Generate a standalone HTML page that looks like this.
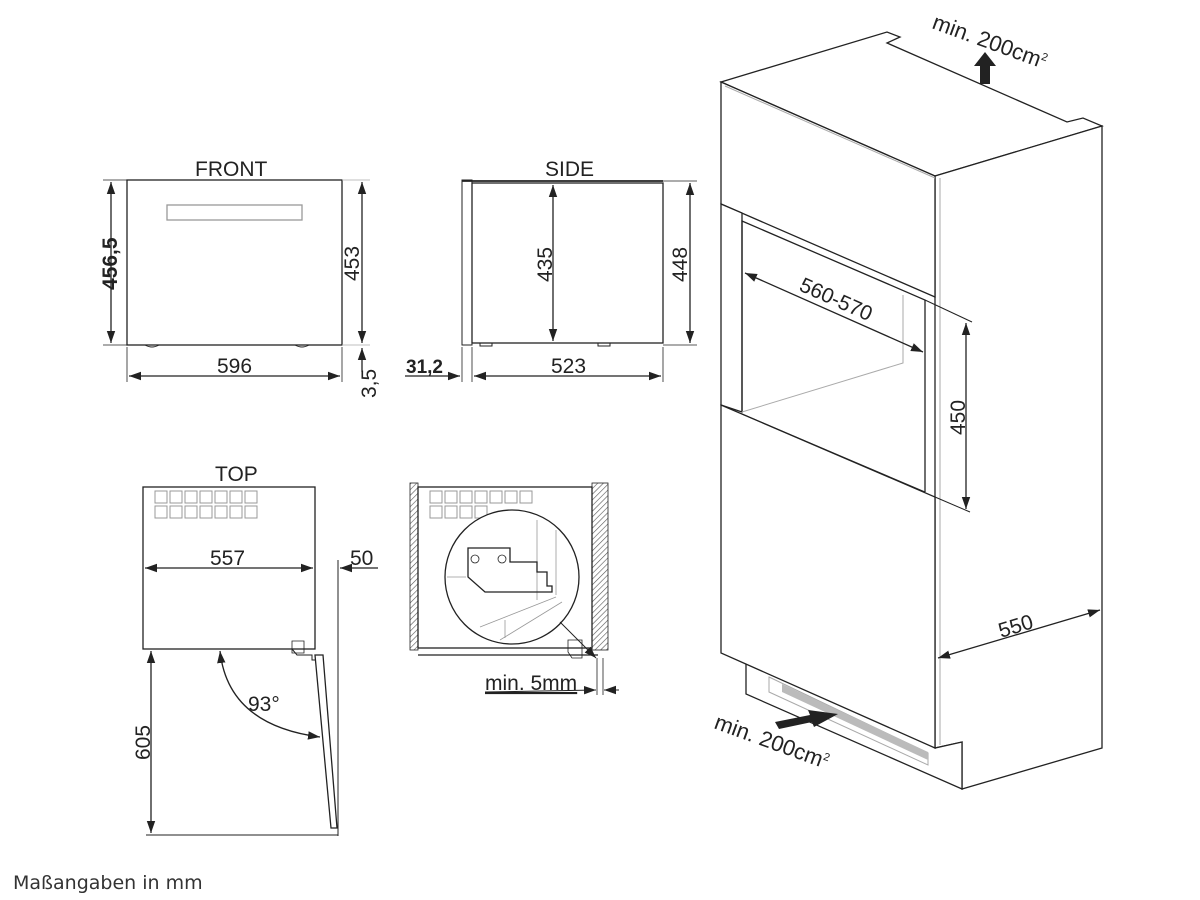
<!DOCTYPE html>
<html><head><meta charset="utf-8"><style>
html,body{margin:0;padding:0;background:#fff;width:1200px;height:900px;overflow:hidden}
svg text{font-family:"Liberation Sans",Arial,sans-serif;font-size:21px;fill:#222}
</style></head><body>
<svg width="1200" height="900" viewBox="0 0 1200 900" xmlns="http://www.w3.org/2000/svg">
<defs>
<marker id="a" viewBox="0 0 10 10" refX="10" refY="5" markerWidth="12" markerHeight="12" markerUnits="userSpaceOnUse" orient="auto-start-reverse"><path d="M0,1.5 L10,5 L0,8.5 Z" fill="#222"/></marker>
<pattern id="h" width="4" height="4" patternUnits="userSpaceOnUse" patternTransform="rotate(45)"><line x1="0" y1="0" x2="0" y2="4" stroke="#555" stroke-width="1.2"/></pattern>
</defs>
<g stroke="#222" stroke-width="1.3" fill="none">
<!-- FRONT -->
<rect x="127" y="180" width="215" height="165" fill="#fff"/>
<rect x="167" y="205" width="135" height="15" stroke="#999"/>
<path d="M145,345 q7,4 14,0 M295,345 q7,4 14,0" stroke-width="1"/>
<line x1="103" y1="180" x2="127" y2="180" stroke-width="0.8"/>
<line x1="103" y1="345" x2="127" y2="345" stroke-width="0.8"/>
<line x1="111" y1="182" x2="111" y2="343" marker-start="url(#a)" marker-end="url(#a)"/>
<line x1="342" y1="180" x2="370" y2="180" stroke-width="0.8" stroke="#aaa"/>
<line x1="342" y1="345" x2="370" y2="345" stroke-width="0.8" stroke="#aaa"/>
<line x1="362" y1="182" x2="362" y2="343" marker-start="url(#a)" marker-end="url(#a)"/>
<line x1="362" y1="372" x2="362" y2="348" marker-end="url(#a)"/>
<line x1="127" y1="347" x2="127" y2="382" stroke-width="0.8"/>
<line x1="342" y1="347" x2="342" y2="382" stroke-width="0.8"/>
<line x1="129" y1="376" x2="340" y2="376" marker-start="url(#a)" marker-end="url(#a)"/>
<!-- SIDE -->
<rect x="472" y="183" width="191" height="160" fill="#fff"/>
<rect x="462" y="180" width="10" height="165" stroke-width="1"/>
<line x1="462" y1="181" x2="663" y2="181" stroke-width="1.8"/>
<path d="M480,343 h12 v3 h-12 z M598,343 h12 v3 h-12 z" stroke-width="1"/>
<line x1="553" y1="185" x2="553" y2="341" marker-start="url(#a)" marker-end="url(#a)"/>
<line x1="663" y1="181" x2="697" y2="181" stroke-width="0.8"/>
<line x1="663" y1="345" x2="697" y2="345" stroke-width="0.8"/>
<line x1="690" y1="183" x2="690" y2="343" marker-start="url(#a)" marker-end="url(#a)"/>
<line x1="462" y1="347" x2="462" y2="382" stroke-width="0.8"/>
<line x1="472" y1="347" x2="472" y2="382" stroke-width="0.8"/>
<line x1="663" y1="347" x2="663" y2="382" stroke-width="0.8"/>
<line x1="405" y1="376" x2="460" y2="376" marker-end="url(#a)"/>
<line x1="474" y1="376" x2="661" y2="376" marker-start="url(#a)" marker-end="url(#a)"/>
<!-- TOP -->
<rect x="143" y="487" width="172" height="162" fill="#fff"/>
<g stroke="#999" stroke-width="1">
<rect x="155" y="491" width="12" height="12"/><rect x="170" y="491" width="12" height="12"/><rect x="185" y="491" width="12" height="12"/><rect x="200" y="491" width="12" height="12"/><rect x="215" y="491" width="12" height="12"/><rect x="230" y="491" width="12" height="12"/><rect x="245" y="491" width="12" height="12"/>
<rect x="155" y="506" width="12" height="12"/><rect x="170" y="506" width="12" height="12"/><rect x="185" y="506" width="12" height="12"/><rect x="200" y="506" width="12" height="12"/><rect x="215" y="506" width="12" height="12"/><rect x="230" y="506" width="12" height="12"/><rect x="245" y="506" width="12" height="12"/>
</g>
<line x1="145" y1="568" x2="313" y2="568" marker-start="url(#a)" marker-end="url(#a)"/>
<line x1="338" y1="560" x2="338" y2="836" stroke-width="1"/>
<line x1="378" y1="568" x2="340" y2="568" marker-end="url(#a)"/>
<path d="M292,641 h12 v12 h-12 z" stroke-width="0.8"/>
<path d="M292,649 l5,6 h15 v5 h6" stroke-width="1"/>
<polygon points="315,655 323,655 337,828 331,828" fill="#fff"/>
<line x1="151" y1="651" x2="151" y2="833" marker-start="url(#a)" marker-end="url(#a)"/>
<line x1="146" y1="835" x2="338" y2="835" stroke-width="1"/>
<path d="M220,651 Q228,725 320,737" marker-start="url(#a)" marker-end="url(#a)"/>
<!-- DETAIL -->
<rect x="410" y="483" width="8" height="167" fill="url(#h)" stroke-width="0.8"/>
<rect x="592" y="483" width="16" height="167" fill="url(#h)" stroke-width="0.8"/>
<rect x="418" y="487" width="174" height="161" fill="#fff"/>
<g stroke="#999" stroke-width="1">
<rect x="430" y="491" width="12" height="12"/><rect x="445" y="491" width="12" height="12"/><rect x="460" y="491" width="12" height="12"/><rect x="475" y="491" width="12" height="12"/><rect x="490" y="491" width="12" height="12"/><rect x="505" y="491" width="12" height="12"/><rect x="520" y="491" width="12" height="12"/>
<rect x="430" y="506" width="12" height="12"/><rect x="445" y="506" width="12" height="12"/><rect x="460" y="506" width="12" height="12"/><rect x="475" y="506" width="12" height="12"/>
</g>
<line x1="418" y1="655" x2="598" y2="655"/>
<circle cx="512" cy="577" r="67" fill="#fff"/>
<g stroke="#999" stroke-width="0.8"><line x1="537" y1="520" x2="537" y2="600"/><line x1="556" y1="530" x2="556" y2="595"/><line x1="447" y1="577" x2="466" y2="577"/><line x1="480" y1="627" x2="556" y2="597"/><line x1="500" y1="640" x2="562" y2="602"/><line x1="505" y1="620" x2="505" y2="638"/></g>
<path d="M468,548 h42 v14 h27 v10 h10 v14 h5 v6 h-67 l-17,-15 z"/>
<circle cx="475" cy="559" r="4" stroke-width="0.8"/><circle cx="502" cy="559" r="4" stroke-width="0.8"/>
<path d="M568,640 h14 v18 h-10 l-4,-6 z" stroke-width="0.8"/>
<line x1="560" y1="622" x2="596" y2="658" stroke-width="1" marker-end="url(#a)"/>
<line x1="597" y1="658" x2="597" y2="695" stroke-width="0.8"/>
<line x1="603" y1="658" x2="603" y2="695" stroke-width="0.8"/>
<line x1="485" y1="692" x2="596" y2="690" stroke-width="1" marker-end="url(#a)"/>
<line x1="619" y1="690" x2="604" y2="690" stroke-width="1" marker-end="url(#a)"/>
<!-- ISO CABINET -->
<polygon points="721,82 887,32 900,37 887,43 1067,122 1083,118 1102,126 935,176" fill="#fff"/>
<polygon points="935,176 1102,126 1102,748 962,789 962,742 935,748" fill="#fff"/>
<polygon points="721,82 935,176 935,297 721,204" fill="#fff"/>
<line x1="725" y1="86" x2="935" y2="178" stroke="#aaa" stroke-width="1"/>
<line x1="940" y1="178" x2="940" y2="745" stroke="#aaa" stroke-width="1"/>
<polygon points="721,204 742,213 742,412 721,405" fill="#fff"/>
<polyline points="742,412 742,221 925,300 925,492"/>
<polyline points="903,295 903,363 742,412" stroke="#aaa" stroke-width="1"/>
<!-- plinth (behind door) -->
<polygon points="746,640 746,694 962,789 962,742 935,748" fill="#fff"/>
<polygon points="769,677 928,753 928,765 769,692" stroke="#aaa" stroke-width="1" fill="#fff"/>
<polygon points="782,684 928,752 928,760 782,692" fill="#bbb" stroke="none"/>
<polygon points="721,405 935,497 935,748 721,653" fill="#fff"/>
<line x1="742" y1="414" x2="925" y2="492" stroke-width="1"/>
<line x1="745" y1="273" x2="923" y2="352" marker-start="url(#a)" marker-end="url(#a)"/>
<line x1="925" y1="300" x2="972" y2="322" stroke-width="1"/>
<line x1="935" y1="497" x2="970" y2="512" stroke-width="1"/>
<line x1="966" y1="323" x2="966" y2="509" marker-start="url(#a)" marker-end="url(#a)"/>
<line x1="938" y1="658" x2="1100" y2="610" marker-start="url(#a)" marker-end="url(#a)"/>
</g>
<!-- thick arrows -->
<polygon points="980,84 990,84 990,66 996,66 985,52 974,66 980,66" fill="#222"/>
<polygon points="775,722 810,715 808,710 838,714 814,727 812,722 779,729" fill="#222"/>
<!-- labels -->
<text x="195" y="176">FRONT</text>
<text x="545" y="176">SIDE</text>
<text x="215" y="481">TOP</text>
<text x="217" y="373">596</text>
<text x="551" y="373">523</text>
<text x="406" y="373" style="font-weight:bold;font-size:19px">31,2</text>
<text transform="translate(117,290) rotate(-90)" style="font-weight:bold">456,5</text>
<text transform="translate(359,281) rotate(-90)">453</text>
<text transform="translate(376,398) rotate(-90)">3,5</text>
<text transform="translate(552,282) rotate(-90)">435</text>
<text transform="translate(687,282) rotate(-90)">448</text>
<text x="210" y="565">557</text>
<text x="350" y="565">50</text>
<text x="248" y="711">93°</text>
<text transform="translate(150,760) rotate(-90)">605</text>
<text x="485" y="690" style="text-decoration:underline">min. 5mm</text>
<text transform="translate(798,290) rotate(24)">560-570</text>
<text transform="translate(965,435) rotate(-90)">450</text>
<text transform="translate(1001,638) rotate(-17)">550</text>
<text transform="translate(931,28) rotate(20)" style="font-size:22px">min. 200cm<tspan dy="-8" font-size="11">2</tspan></text>
<text transform="translate(713,728) rotate(20)" style="font-size:22px">min. 200cm<tspan dy="-8" font-size="11">2</tspan></text>
<text x="13" y="889" style="font-family:'DejaVu Sans',sans-serif;font-size:19px;fill:#333">Maßangaben in mm</text>
</svg>
</body></html>
